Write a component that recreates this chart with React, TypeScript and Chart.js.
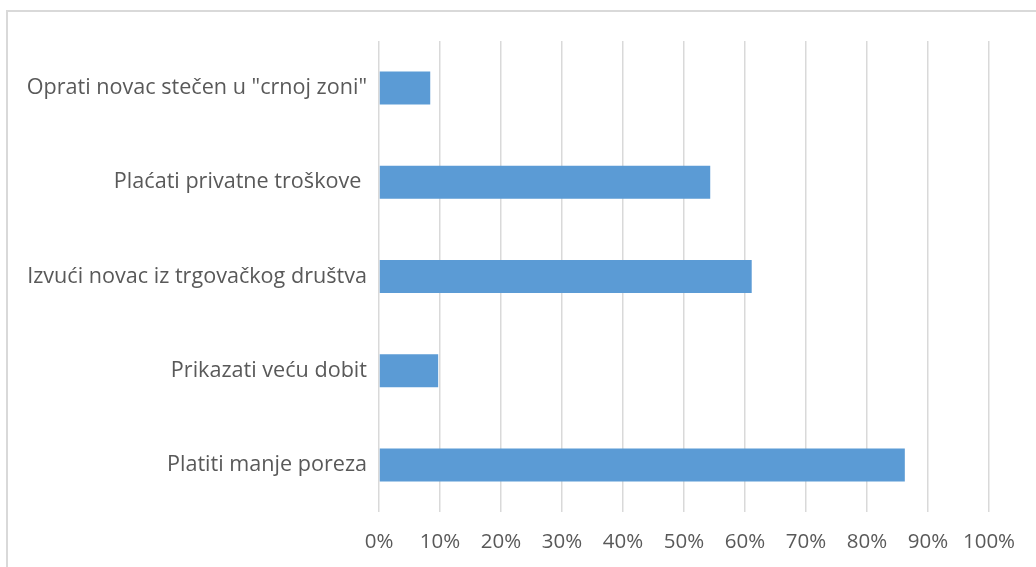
import React, { useEffect, useRef } from "react";
import { Chart, registerables } from "chart.js";

Chart.register(...registerables);

const categories = [
  'Oprati novac stečen u "crnoj zoni"',
  "Plaćati privatne troškove ",
  "Izvući novac iz trgovačkog društva",
  "Prikazati veću dobit",
  "Platiti manje poreza",
];
const values = [8.4, 54.3, 61.1, 9.7, 86.2];
const xTicks = [0, 10, 20, 30, 40, 50, 60, 70, 80, 90, 100];

export default function App() {
  const ref = useRef<HTMLCanvasElement>(null);
  useEffect(() => {
    document.body.style.margin = "0";
    document.body.style.overflow = "hidden";
    const ctx = ref.current!;
    const chart = new Chart(ctx, {
      type: "bar",
      data: {
        labels: categories,
        datasets: [
          {
            data: values,
            backgroundColor: "#5B9BD5",
            borderWidth: 0,
            barPercentage: 0.7,
            categoryPercentage: 0.5,
          },
        ],
      },
      options: {
        indexAxis: "y",
        responsive: false,
        animation: false,
        devicePixelRatio: 1,
        layout: { padding: { left: 0, right: 47, top: 41, bottom: 0 } },
        plugins: { legend: { display: false }, tooltip: { enabled: false } },
        scales: {
          x: {
            min: 0,
            max: 100,
            afterBuildTicks: (s: any) => {
              s.ticks = xTicks.map((v) => ({ value: v }));
            },
            afterFit: (s: any) => {
              s.height = 55;
            },
            grid: { color: "#d9d9d9", lineWidth: 1.5, drawTicks: false },
            border: { display: false },
            ticks: {
              color: "#595959",
              padding: 18,
              font: { family: "Open Sans", size: 20.5 },
              callback: (v: any) => v + "%",
              maxRotation: 0,
            },
          },
          y: {
            afterFit: (s: any) => {
              s.width = 379;
            },
            grid: { display: false, drawTicks: false },
            border: { display: false },
            ticks: {
              color: "#595959",
              padding: 12,
              font: { family: "Open Sans", size: 21.6 },
            },
          },
        },
      },
    });
    return () => chart.destroy();
  }, []);
  return (
    <div style={{ position: "relative", width: 1036, height: 567, overflow: "hidden", background: "#fff" }}>
      <div
        style={{
          position: "absolute",
          left: 6,
          top: 10,
          width: 1100,
          height: 700,
          border: "2px solid #d9d9d9",
          boxSizing: "border-box",
        }}
      />
      <canvas ref={ref} width={1036} height={567} style={{ position: "absolute", left: 0, top: 0 }} />
    </div>
  );
}
